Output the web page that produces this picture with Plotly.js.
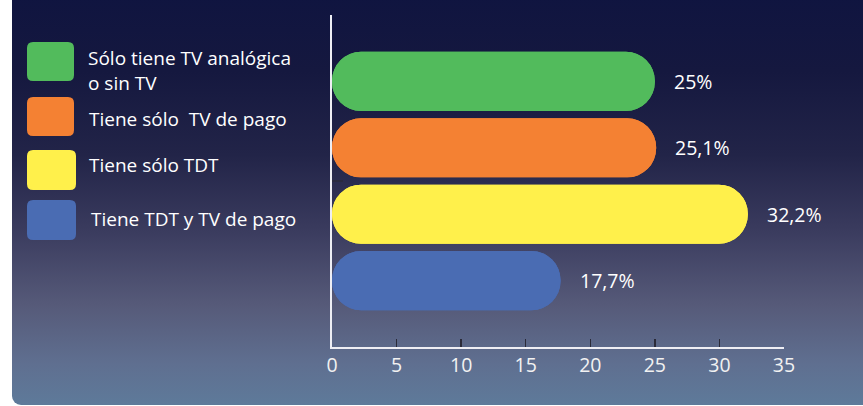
<!DOCTYPE html>
<html>
<head>
<meta charset="utf-8">
<script src="https://cdn.plot.ly/plotly-3.0.1.min.js"></script>
<style>
  html, body { margin:0; padding:0; background:#ffffff; width:863px; height:406px; overflow:hidden; }
  #panel { position:absolute; left:12px; top:-12px; width:851px; height:417px;
    border-radius:0 0 0 9px;
    background: linear-gradient(to bottom, #0f1440 0%, #15183f 20%, #222448 40%, #3a3b5e 58%, #565a79 76%, #5f6f90 90%, #5e7a9a 100%); }
  #chart { position:absolute; left:0; top:0; width:863px; height:406px; }
</style>
</head>
<body>
<div id="panel"></div>
<div id="chart"></div>
<script>
// ---- data ----
const categories = ["Sólo tiene TV analógica<br>o sin TV", "Tiene sólo  TV de pago", "Tiene sólo TDT", "Tiene TDT y TV de pago"];
const values = [25, 25.1, 32.2, 17.7];
const valueLabels = ["25%", "25,1%", "32,2%", "17,7%"];
const colors = ["#52bb5c", "#f48133", "#fff04b", "#4a6cb3"];
const xTicks = [0, 5, 10, 15, 20, 25, 30, 35];

// ---- layout geometry ----
const W = 863, H = 406;
const M = {l: 332, r: 79, t: 15, b: 59};
const PW = W - M.l - M.r, PH = H - M.t - M.b;
const px2x = px => (px - M.l) / PW;
const py2y = py => 1 - (py - M.t) / PH;
const FONT = "Open Sans, Noto Sans, sans-serif";

// Right-rounded halves (0 -> value) and left-rounded halves (value -> 0)
const traceRight = {
  type: "bar", orientation: "h",
  y: categories.map((c, i) => i), x: values, base: values.map(() => 0),
  marker: {color: colors, cornerradius: 30, line: {width: 0}},
  hoverinfo: "skip", showlegend: false
};
const traceLeft = {
  type: "bar", orientation: "h",
  y: categories.map((c, i) => i), x: values.map(v => -v), base: values,
  marker: {color: colors, cornerradius: 30, line: {width: 0}},
  hoverinfo: "skip", showlegend: false
};

// legend: rounded squares + text
function roundRect(x0, y0, x1, y1, r) {
  const X = px2x, Y = py2y;
  return `M ${X(x0 + r)} ${Y(y0)} L ${X(x1 - r)} ${Y(y0)} Q ${X(x1)} ${Y(y0)} ${X(x1)} ${Y(y0 + r)} ` +
         `L ${X(x1)} ${Y(y1 - r)} Q ${X(x1)} ${Y(y1)} ${X(x1 - r)} ${Y(y1)} ` +
         `L ${X(x0 + r)} ${Y(y1)} Q ${X(x0)} ${Y(y1)} ${X(x0)} ${Y(y1 - r)} ` +
         `L ${X(x0)} ${Y(y0 + r)} Q ${X(x0)} ${Y(y0)} ${X(x0 + r)} ${Y(y0)} Z`;
}
const legendBoxes = [[27, 42, 74, 81], [27, 97, 74, 136], [27, 150, 76, 190], [27, 200, 76, 240]];
const legendText = [[86, 70], [87, 119], [87, 165], [89, 219]];

const shapes = legendBoxes.map((b, i) => ({
  type: "path", xref: "paper", yref: "paper",
  path: roundRect(b[0], b[1], b[2], b[3], 6),
  fillcolor: colors[i], line: {width: 0}, layer: "above"
}));
// small stray tick on the vertical axis
shapes.push({type: "line", xref: "paper", yref: "paper",
  x0: px2x(332), x1: px2x(343), y0: py2y(181), y1: py2y(181),
  line: {color: "#2a2a38", width: 1.2}});

const annotations = [];
categories.forEach((c, i) => {
  annotations.push({
    xref: "paper", yref: "paper", x: px2x(legendText[i][0]), y: py2y(legendText[i][1]),
    xanchor: "left", yanchor: "middle", align: "left", showarrow: false,
    text: c, font: {family: FONT, size: 19, color: "#ffffff"}
  });
  annotations.push({
    xref: "x", yref: "y", x: values[i], y: i,
    xanchor: "left", yanchor: "middle", xshift: 17, showarrow: false,
    text: valueLabels[i], font: {family: FONT, size: 19.5, color: "#ffffff"}
  });
});

const layout = {
  width: W, height: H,
  margin: M,
  paper_bgcolor: "rgba(0,0,0,0)", plot_bgcolor: "rgba(0,0,0,0)",
  barmode: "overlay", bargap: 0.11,
  font: {family: FONT, color: "#ffffff"},
  xaxis: {
    range: [0, 35], tickvals: xTicks, ticktext: xTicks.map(String),
    showgrid: false, zeroline: false,
    showline: true, linecolor: "#eeeef4", linewidth: 2,
    ticks: "inside", ticklen: 8, tickwidth: 1.5, tickcolor: "#2a2a38",
    tickfont: {family: FONT, size: 19.5, color: "#f2f2f2"},
    fixedrange: true
  },
  yaxis: {
    range: [4, -1], showgrid: false, zeroline: false,
    showline: true, linecolor: "#eeeef4", linewidth: 2,
    showticklabels: false, ticks: "", fixedrange: true
  },
  shapes: shapes,
  annotations: annotations,
  showlegend: false
};

Plotly.newPlot("chart", [traceRight, traceLeft], layout, {displayModeBar: false, staticPlot: true});
</script>
</body>
</html>
